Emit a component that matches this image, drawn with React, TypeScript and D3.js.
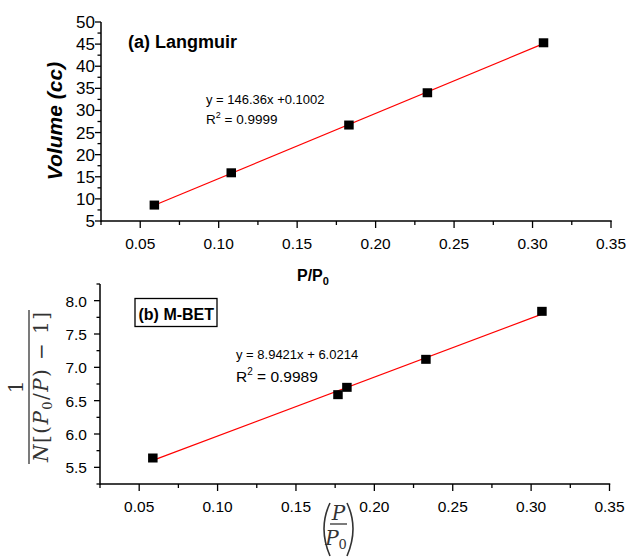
import * as d3 from 'd3';

// (a) Langmuir data
const langX = [0.059, 0.108, 0.183, 0.233, 0.307];
const langY = [8.6, 15.9, 26.7, 34.0, 45.3];
// (b) M-BET data
const betX = [0.0587, 0.1768, 0.1825, 0.2329, 0.3069];
const betY = [5.64, 6.59, 6.70, 7.12, 7.84];

const xTicks = [0.05, 0.1, 0.15, 0.2, 0.25, 0.3, 0.35];
const langYTicks = [5, 10, 15, 20, 25, 30, 35, 40, 45, 50];
const betYTicks = [5.5, 6.0, 6.5, 7.0, 7.5, 8.0];

const FONT = '"Liberation Sans", Arial, sans-serif';
const SERIF = '"DejaVu Serif", "Liberation Serif", serif';

function fit(xs: number[], ys: number[]) {
  const mx = d3.mean(xs)!;
  const my = d3.mean(ys)!;
  let sxy = 0, sxx = 0;
  xs.forEach((x, i) => { sxy += (x - mx) * (ys[i] - my); sxx += (x - mx) ** 2; });
  const m = sxy / sxx;
  return { m, b: my - m * mx };
}

interface PanelProps {
  xs: number[];
  ys: number[];
  yTicks: number[];
  yDomain: [number, number];
  yRange: [number, number];
  xRange: [number, number];
  yMinorStep: number;
  xFont: number;
  yFont: number;
  yLabelGap: number;
  yFmt: (v: number) => string;
}

function Panel({ xs, ys, yTicks, yDomain, yRange, xRange, yMinorStep, xFont, yFont, yLabelGap, yFmt }: PanelProps) {
  const x = d3.scaleLinear().domain([0.025, 0.35]).range(xRange);
  const y = d3.scaleLinear().domain(yDomain).range(yRange);
  const x0 = xRange[0];
  const y0 = yRange[0];
  const xMinor = d3.range(0.025, 0.351, 0.05);
  const yMinor = d3.range(yDomain[0], yDomain[1] + 1e-6, yMinorStep).filter(v => !yTicks.some(t => Math.abs(t - v) < 1e-6));
  const { m, b } = fit(xs, ys);
  const lx = d3.extent(xs) as [number, number];
  const line = d3.line<number>().x(v => x(v)).y(v => y(m * v + b));

  return (
    <g>
      <line x1={x0} x2={x0} y1={y0 + 0.75} y2={y(yDomain[1])} stroke="#000" strokeWidth={1.5} />
      <line x1={x0} x2={xRange[1] + 0.75} y1={y0} y2={y0} stroke="#000" strokeWidth={1.5} />
      {xTicks.map(t => (
        <g key={'xt' + t}>
          <line x1={x(t)} x2={x(t)} y1={y0} y2={y0 + 7} stroke="#000" strokeWidth={1.3} />
          <text x={x(t)} y={y0 + 28} textAnchor="middle" fontSize={xFont} fontFamily={FONT}>{t.toFixed(2)}</text>
        </g>
      ))}
      {xMinor.map(t => (
        <line key={'xm' + t} x1={x(t)} x2={x(t)} y1={y0} y2={y0 + 4} stroke="#000" strokeWidth={1.3} />
      ))}
      {yTicks.map(t => (
        <g key={'yt' + t}>
          <line x1={x0 - 6} x2={x0} y1={y(t)} y2={y(t)} stroke="#000" strokeWidth={1.3} />
          <text x={x0 - yLabelGap} y={y(t) + 6} textAnchor="end" fontSize={yFont} fontFamily={FONT}>{yFmt(t)}</text>
        </g>
      ))}
      {yMinor.map(t => (
        <line key={'ym' + t} x1={x0 - 3.5} x2={x0} y1={y(t)} y2={y(t)} stroke="#000" strokeWidth={1.3} />
      ))}
      <path d={line(lx) ?? ''} stroke="#ff0000" strokeWidth={1.2} fill="none" />
      {xs.map((v, i) => (
        <rect key={'p' + i} x={x(v) - 4.75} y={y(ys[i]) - 4.5} width={9.5} height={9} fill="#000" />
      ))}
    </g>
  );
}

export default function App() {
  return (
    <div style={{ position: 'absolute', left: 0, top: 0 }}>
      <svg width={627} height={560} style={{ display: 'block', background: '#fff' }}>
        <Panel xs={langX} ys={langY} yTicks={langYTicks} yDomain={[5, 50]} yRange={[221, 22]} xRange={[101, 611]}
          yMinorStep={2.5} xFont={15.5} yFont={17} yLabelGap={6} yFmt={v => String(v)} />
        <Panel xs={betX} ys={betY} yTicks={betYTicks} yDomain={[5.25, 8.25]} yRange={[484, 284]} xRange={[100, 609.5]}
          yMinorStep={0.25} xFont={15.5} yFont={15.5} yLabelGap={13} yFmt={v => v.toFixed(1)} />

        {/* panel (a) annotations */}
        <text x={128} y={48} fontSize={18} fontWeight="bold" fontFamily={FONT}>(a) Langmuir</text>
        <text x={206} y={104} fontSize={13} fontFamily={FONT}>y = 146.36x +0.1002</text>
        <text x={206} y={124} fontSize={13.5} fontFamily={FONT}>R<tspan fontSize={9} dy={-6}>2</tspan><tspan dy={6}> = 0.9999</tspan></text>
        <text transform="translate(62,121) rotate(-90)" textAnchor="middle" fontSize={21} fontWeight="bold" fontStyle="italic" fontFamily={FONT}>Volume (cc)</text>
        <text x={297} y={281} fontSize={16} fontWeight="bold" fontFamily={FONT}>P/P<tspan fontSize={11} dy={4}>0</tspan></text>

        {/* panel (b) annotations */}
        <rect x={135} y={298.5} width={82} height={28} fill="#fff" stroke="#000" strokeWidth={1.3} />
        <text x={138.5} y={320} fontSize={16} fontWeight="bold" fontFamily={FONT}>(b) M-BET</text>
        <text x={236} y={359} fontSize={13} fontFamily={FONT}>y = 8.9421x + 6.0214</text>
        <text x={236} y={382} fontSize={15.5} fontFamily={FONT}>R<tspan fontSize={10} dy={-7}>2</tspan><tspan dy={7}> = 0.9989</tspan></text>

        {/* y label of (b): 1 / N[(P0/P) - 1] */}
        <g transform="translate(29,387) rotate(-90)" fill="#333" fontFamily={SERIF}>
          <text x={0} y={-6} textAnchor="middle" fontSize={20}>1</text>
          <line x1={-77} x2={77} y1={0} y2={0} stroke="#333" strokeWidth={1.3} />
          <text x={0} y={19} textAnchor="middle" fontSize={20} textLength={150} lengthAdjust="spacing">
            <tspan fontStyle="italic">N</tspan>[(<tspan fontStyle="italic">P</tspan><tspan fontSize={13} dy={4}>0</tspan><tspan dy={-4}>/</tspan><tspan fontStyle="italic">P</tspan>) − 1]
          </text>
        </g>

        {/* x label of (b): (P/P0) */}
        <g fill="#333" fontFamily={SERIF}>
          <path d="M330,503 Q318,528 330,556" stroke="#333" strokeWidth={1.6} fill="none" />
          <path d="M347,503 Q359,528 347,556" stroke="#333" strokeWidth={1.6} fill="none" />
          <text x={338.5} y={520} textAnchor="middle" fontSize={20} fontStyle="italic">P</text>
          <line x1={330} x2={347} y1={524} y2={524} stroke="#333" strokeWidth={1.3} />
          <text x={336} y={545} textAnchor="middle" fontSize={20} fontStyle="italic">P<tspan fontSize={13} fontStyle="normal" dy={4}>0</tspan></text>
        </g>
      </svg>
    </div>
  );
}
